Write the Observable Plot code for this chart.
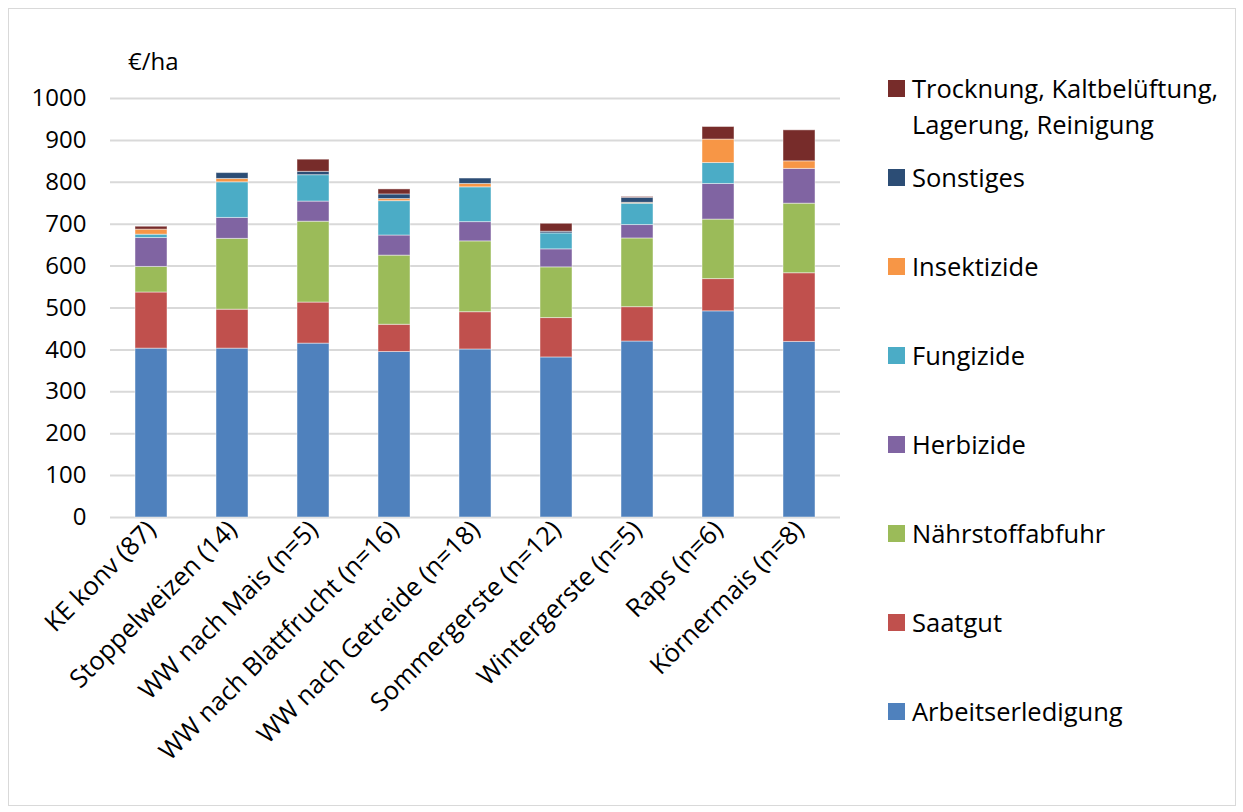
<!DOCTYPE html>
<html>
<head>
<meta charset="utf-8">
<script src="https://cdn.jsdelivr.net/npm/d3@7"></script>
<script src="https://cdn.jsdelivr.net/npm/@observablehq/plot@0.6"></script>
<style>
  body { margin: 0; background: #fff; font-family: "Open Sans", sans-serif; color: #000; }
  #wrap { position: relative; width: 1243px; height: 812px; overflow: hidden; }
  #frame { position: absolute; left: 8px; top: 8px; width: 1228px; height: 798px; border: 1px solid #d9d9d9; box-sizing: border-box; pointer-events: none; }
  #unit { position: absolute; left: 128px; top: 44px; font-size: 24px; line-height: 34px; }
  .leg { position: absolute; left: 888px; font-size: 25.5px; line-height: 36px; }
  .leg .sw { position: absolute; left: 0; top: 10px; width: 17px; height: 17px; }
  .leg .tx { position: absolute; left: 24px; top: 0; white-space: nowrap; }
  #chart { position: absolute; left: 0; top: 0; }
</style>
</head>
<body>
<div id="wrap">
  <div id="chart"></div>
  <div id="unit">€/ha</div>
  <div id="legend"></div>
  <div id="frame"></div>
</div>
<script>
// Crop groups along the x axis
const categories = [
  "KE konv (87)", "Stoppelweizen (14)", "WW nach Mais (n=5)", "WW nach Blattfrucht (n=16)",
  "WW nach Getreide (n=18)", "Sommergerste (n=12)", "Wintergerste (n=5)", "Raps (n=6)", "Körnermais (n=8)"
];

// Cost components in stacking order (bottom to top)
const series = [
  "Arbeitserledigung", "Saatgut", "Nährstoffabfuhr", "Herbizide",
  "Fungizide", "Insektizide", "Sonstiges", "Trocknung, Kaltbelüftung, Lagerung, Reinigung"
];
const colors = ["#4f81bd", "#c0504d", "#9bbb59", "#8064a2", "#4bacc6", "#f79646", "#2c4d75", "#772c2a"];

// €/ha per component, one value per crop group
const arbeitserledigung = [403, 403, 415, 395, 401, 382, 420, 492, 419];
const saatgut           = [134,  93,  98,  65,  89,  94,  82,  77, 164];
const naehrstoffabfuhr  = [ 61, 169, 193, 165, 169, 121, 164, 142, 166];
const herbizide         = [ 69,  50,  48,  48,  46,  43,  32,  85,  83];
const fungizide         = [  8,  85,  63,  82,  83,  38,  51,  50,   0];
const insektizide       = [ 12,   8,   0,   5,   8,   0,   2,  56,  18];
const sonstiges         = [  0,  14,   8,  11,  13,   4,  12,   0,   0];
const trocknung         = [  7,   0,  29,  12,   0,  19,   2,  30,  74];

const yTicks = [0, 100, 200, 300, 400, 500, 600, 700, 800, 900, 1000];

const valuesBySeries = [arbeitserledigung, saatgut, naehrstoffabfuhr, herbizide, fungizide, insektizide, sonstiges, trocknung];
const rows = [];
series.forEach((s, i) => {
  categories.forEach((c, j) => {
    const v = valuesBySeries[i][j];
    if (v > 0) rows.push({ category: c, component: s, value: v });
  });
});

const chart = Plot.plot({
  width: 1243,
  height: 812,
  marginTop: 98,
  marginBottom: 295,
  marginLeft: 110,
  marginRight: 403,
  style: { fontFamily: "Open Sans, sans-serif", fontSize: "24px", color: "#000", background: "transparent" },
  x: { domain: categories, paddingInner: 0.6, paddingOuter: 0.3, label: null },
  y: { domain: [0, 1000], label: null },
  color: { domain: series, range: colors },
  marks: [
    Plot.ruleY(yTicks, { stroke: "#d9d9d9", strokeWidth: 2 }),
    Plot.barY(rows, Plot.stackY({
      x: "category",
      y: "value",
      fill: "component",
      order: series,
      stroke: "#ffffff",
      strokeOpacity: 0.45,
      strokeWidth: 1
    })),
    Plot.axisY({ ticks: yTicks, tickFormat: (d) => String(d), tickSize: 0, tickPadding: 24, label: null, fontSize: 24 }),
    Plot.axisX({ tickSize: 0, tickRotate: -45, tickPadding: 8, label: null, fontSize: 25.5 })
  ]
});
document.getElementById("chart").appendChild(chart);

// Legend on the right, top entry first
const legend = document.getElementById("legend");
const legendLines = {
  "Trocknung, Kaltbelüftung, Lagerung, Reinigung": ["Trocknung, Kaltbelüftung,", "Lagerung, Reinigung"]
};
const order = series.slice().reverse();
order.forEach((s, i) => {
  const item = document.createElement("div");
  item.className = "leg";
  item.style.top = (88 + 89 * i - 18) + "px";
  const sw = document.createElement("div");
  sw.className = "sw";
  sw.style.background = colors[series.indexOf(s)];
  const tx = document.createElement("div");
  tx.className = "tx";
  tx.innerHTML = (legendLines[s] || [s]).join("<br>");
  item.appendChild(sw);
  item.appendChild(tx);
  legend.appendChild(item);
});
</script>
</body>
</html>
